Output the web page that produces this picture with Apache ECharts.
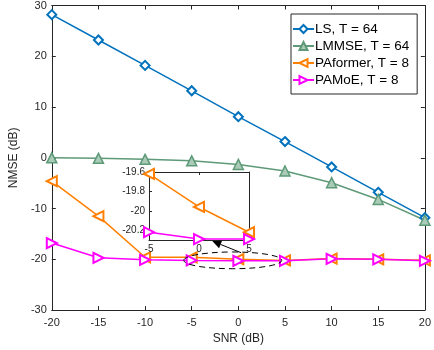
<!DOCTYPE html>
<html><head><meta charset="utf-8">
<script src="https://cdn.jsdelivr.net/npm/echarts@6/dist/echarts.min.js"></script>
<style>html,body{margin:0;padding:0;background:#fff}#c{width:434px;height:350px}</style>
</head><body><div id="c"></div>
<script>
const snr = [-20,-15,-10,-5,0,5,10,15,20];
const ls = [28.2,23.2,18.2,13.2,8.1,3.2,-1.8,-6.8,-11.8];
const lmmse = [0,-0.1,-0.3,-0.6,-1.3,-2.6,-4.9,-8.2,-12.3];
const paformer = [-4.6,-11.5,-19.6,-19.6,-19.96,-20.22,-19.85,-20.0,-20.2];
const pamoe = [-16.8,-19.7,-20.1,-20.22,-20.29,-20.29,-19.9,-20.0,-20.3];
const insetX = [-5,0,5];
const insetPAformer = [-19.62,-19.96,-20.22];
const insetPAMoE = [-20.22,-20.29,-20.29];
const xTicks = [-20,-15,-10,-5,0,5,10,15,20];
const yTicks = [-30,-20,-10,0,10,20,30];
const insetYTicks = [-20.2,-20,-19.8,-19.6];

const C_LS='#0072BD', C_LM='#5E9A78', C_PF='#FF8000', C_PM='#FF00FF';
const font='Liberation Sans, Arial, sans-serif';
const axisCol='#262626';

function pairs(xs, ys){return xs.map((x,i)=>[x,ys[i]]);}

const chart = echarts.init(document.getElementById('c'), null, {renderer:'canvas'});

function mainAxisX(show, pos){
  return {type:'value', gridIndex:0, position:pos, min:-20, max:20, interval:5,
    axisLine:{show:true, onZero:false, lineStyle:{color:axisCol,width:1}},
    axisTick:{show:true, inside:true, length:4, lineStyle:{color:axisCol}},
    axisLabel:{show:show, color:'#262626', fontSize:11, fontFamily:font, margin:7},
    splitLine:{show:false},
    name: show?'SNR (dB)':'', nameLocation:'middle', nameGap:22,
    nameTextStyle:{color:'#262626', fontSize:12, fontFamily:font}};
}
function mainAxisY(show,pos){
  return {type:'value', gridIndex:0, position:pos, min:-30, max:30, interval:10,
    axisLine:{show:true, onZero:false, lineStyle:{color:axisCol,width:1}},
    axisTick:{show:true, inside:true, length:4, lineStyle:{color:axisCol}},
    axisLabel:{show:show, color:'#262626', fontSize:11, fontFamily:font, margin:5},
    splitLine:{show:false},
    name: show?'NMSE (dB)':'', nameLocation:'middle', nameGap:27,
    nameTextStyle:{color:'#262626', fontSize:12, fontFamily:font}};
}

const option = {
  animation:false,
  backgroundColor:'#fff',
  grid:[
    {left:40, top:5, width:388, height:307},
    {left:149, top:172, width:100, height:68, show:true, backgroundColor:'#fff', borderWidth:0, z:5}
  ],
  xAxis:[
    mainAxisX(true,'bottom'),
    mainAxisX(false,'top'),
    {type:'value', gridIndex:1, position:'bottom', min:-5, max:5, interval:5, z:6,
      axisLine:{show:true, onZero:false, lineStyle:{color:axisCol}},
      axisTick:{show:true, inside:true, length:3, lineStyle:{color:axisCol}},
      axisLabel:{color:'#262626', fontSize:10, fontFamily:font, margin:4},
      splitLine:{show:false}},
    {type:'value', gridIndex:1, position:'top', min:-5, max:5, interval:5, z:6,
      axisLine:{show:true, onZero:false, lineStyle:{color:axisCol}},
      axisTick:{show:true, inside:true, length:3, lineStyle:{color:axisCol}},
      axisLabel:{show:false}, splitLine:{show:false}}
  ],
  yAxis:[
    mainAxisY(true,'left'),
    mainAxisY(false,'right'),
    {type:'value', gridIndex:1, position:'left', min:-20.3, max:-19.6, z:6,
      axisLine:{show:true, onZero:false, lineStyle:{color:axisCol}},
      axisTick:{show:true, inside:true, length:3, customValues:insetYTicks, lineStyle:{color:axisCol}},
      axisLabel:{color:'#262626', fontSize:10, fontFamily:font, margin:4, customValues:insetYTicks,
        formatter:v=>String(Math.round(v*10)/10)},
      splitLine:{show:false}},
    {type:'value', gridIndex:1, position:'right', min:-20.3, max:-19.6, z:6,
      axisLine:{show:true, onZero:false, lineStyle:{color:axisCol}},
      axisTick:{show:false}, axisLabel:{show:false}, splitLine:{show:false}}
  ],
  legend:{
    orient:'vertical', left:291, top:14, padding:[8,8,7,1],
    backgroundColor:'#fff', borderColor:'#262626', borderWidth:1,
    itemWidth:21, itemHeight:10, itemGap:3,
    textStyle:{color:'#000', fontSize:13.5, fontFamily:font, padding:[0,0,0,-4]},
    data:['LS, T = 64','LMMSE, T = 64','PAformer, T = 8','PAMoE, T = 8']
  },
  series:[
    {name:'LS, T = 64', type:'line', xAxisIndex:0, yAxisIndex:0, data:pairs(snr,ls),
      symbol:'emptyDiamond', symbolSize:9, lineStyle:{color:C_LS,width:1.5},
      itemStyle:{color:C_LS, borderColor:C_LS, borderWidth:1.5}},
    {name:'LMMSE, T = 64', type:'line', xAxisIndex:0, yAxisIndex:0, data:pairs(snr,lmmse),
      symbol:'triangle', symbolSize:10, lineStyle:{color:C_LM,width:1.5},
      itemStyle:{color:'#A9CBB7', borderColor:C_LM, borderWidth:1.5}},
    {name:'PAformer, T = 8', type:'line', xAxisIndex:0, yAxisIndex:0, data:pairs(snr,paformer),
      symbol:'emptyTriangle', symbolRotate:90, symbolSize:10, lineStyle:{color:C_PF,width:1.5},
      itemStyle:{color:C_PF, borderColor:C_PF, borderWidth:1.5}},
    {name:'PAMoE, T = 8', type:'line', xAxisIndex:0, yAxisIndex:0, data:pairs(snr,pamoe),
      symbol:'emptyTriangle', symbolRotate:-90, symbolSize:10, lineStyle:{color:C_PM,width:1.5},
      itemStyle:{color:C_PM, borderColor:C_PM, borderWidth:1.5}},
    {name:'inset PAformer', type:'line', xAxisIndex:2, yAxisIndex:2, data:pairs(insetX,insetPAformer),
      symbol:'emptyTriangle', symbolRotate:90, symbolSize:10, z:7, clip:false, lineStyle:{color:C_PF,width:1.5},
      itemStyle:{color:C_PF, borderColor:C_PF, borderWidth:1.5}},
    {name:'inset PAMoE', type:'line', xAxisIndex:2, yAxisIndex:2, data:pairs(insetX,insetPAMoE),
      symbol:'emptyTriangle', symbolRotate:-90, symbolSize:10, z:7, clip:false, lineStyle:{color:C_PM,width:1.5},
      itemStyle:{color:C_PM, borderColor:C_PM, borderWidth:1.5}}
  ]
};
chart.setOption(option);

// annotation: dashed ellipse around zoomed region and arrow to inset
const ellC = chart.convertToPixel({gridIndex:0}, [-0.6,-20.2]);
const ellE = chart.convertToPixel({gridIndex:0}, [4.65,-21.85]);
const rx = ellE[0]-ellC[0], ry = ellE[1]-ellC[1];
const tail = chart.convertToPixel({gridIndex:0}, [0.3,-18.7]);
const head = chart.convertToPixel({gridIndex:0}, [-2.8,-16.4]);
const dx = head[0]-tail[0], dy = head[1]-tail[1], L = Math.hypot(dx,dy);
const ux = dx/L, uy = dy/L, hl = 9, hw = 4;
const bx = head[0]-ux*hl, by = head[1]-uy*hl;
chart.setOption({graphic:[
  {type:'ellipse', shape:{cx:ellC[0], cy:ellC[1], rx:rx, ry:ry}, z:10,
    style:{fill:null, stroke:'#000', lineWidth:1, lineDash:[6,4]}},
  {type:'line', shape:{x1:tail[0], y1:tail[1], x2:bx, y2:by}, z:10, style:{stroke:'#000', lineWidth:1}},
  {type:'polygon', shape:{points:[[head[0],head[1]],[bx-uy*hw,by+ux*hw],[bx+uy*hw,by-ux*hw]]}, z:10,
    style:{fill:'#000'}}
]});
</script></body></html>
